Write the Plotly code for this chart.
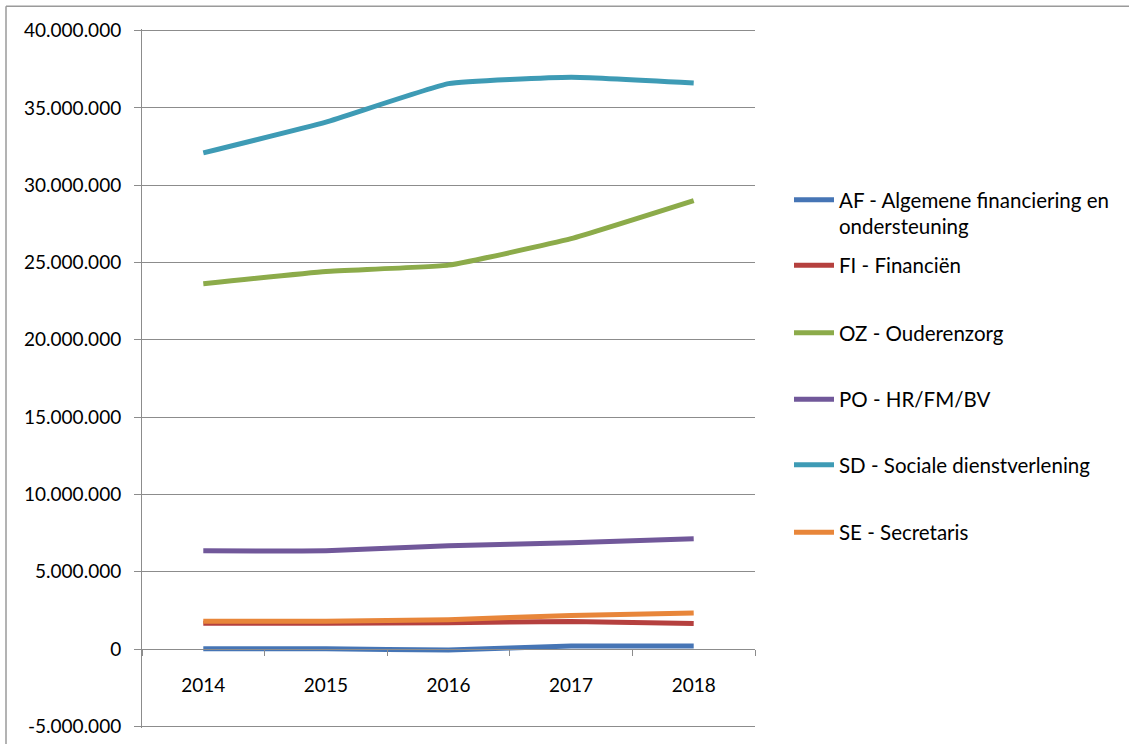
import plotly.graph_objects as go

years = ["2014", "2015", "2016", "2017", "2018"]

af = [30000, 20000, -50000, 210000, 210000]
fi = [1670000, 1670000, 1710000, 1780000, 1650000]
oz = [23630000, 24420000, 24830000, 26540000, 29000000]
po = [6360000, 6360000, 6680000, 6880000, 7130000]
sd = [32090000, 34080000, 36570000, 36980000, 36610000]
se = [1800000, 1800000, 1900000, 2180000, 2330000]

names = [
    "AF - Algemene financiering en<br>ondersteuning",
    "FI - Financiën",
    "OZ - Ouderenzorg",
    "PO - HR/FM/BV",
    "SD - Sociale dienstverlening",
    "SE - Secretaris",
]
colors = ["#4675b5", "#b5403e", "#8cab4a", "#71589a", "#3e9bb5", "#e8863a"]

y_ticks = list(range(-5000000, 40000001, 5000000))
y_ticktext = [f"{v:,}".replace(",", ".") for v in y_ticks]
y_range = [-5100000, 40100000]   # a hair wider so the end gridlines are kept

# plot area in pixels (window 1129x749)
L, R, T, B = 142, 755, 29, 733
W, H = R - L, B - T

FONT = "Lato"
GRID = "#8c8c8c"

fig = go.Figure()

# legend rows (pixel y of the first text line)
legend_rows = [200, 266, 334, 401, 467, 535]

series = [af, fi, oz, po, sd, se]
for i, (vals, name, col) in enumerate(zip(series, names, colors)):
    lg = "legend" if i == 0 else f"legend{i + 1}"
    fig.add_trace(
        go.Scatter(
            x=years, y=vals, name=name, mode="lines",
            line=dict(color=col, width=5, shape="spline", smoothing=0.35),
            legend=lg,
        )
    )

legends = {}
for i, ypx in enumerate(legend_rows):
    key = "legend" if i == 0 else f"legend{i + 1}"
    legends[key] = dict(
        x=(789 - L) / W,
        xanchor="left",
        y=(B - (ypx - 19)) / H,
        yanchor="top",
        valign="top",
        bgcolor="rgba(0,0,0,0)",
        font=dict(family=FONT, size=20.5, color="#000000"),
        itemwidth=40,
        tracegroupgap=0,
    )

fig.update_layout(
    width=1129,
    height=749,
    margin=dict(l=L, r=1129 - R, t=T, b=749 - B),
    paper_bgcolor="white",
    plot_bgcolor="white",
    font=dict(family=FONT, size=19, color="#000000"),
    showlegend=True,
    **legends,
)

fig.update_yaxes(
    range=y_range,
    tickvals=y_ticks,
    ticktext=y_ticktext,
    showgrid=True,
    gridcolor=GRID,
    gridwidth=1,
    zeroline=False,
    showline=True,
    linecolor=GRID,
    linewidth=1,
    ticks="outside",
    ticklen=7,
    tickcolor=GRID,
    ticklabelstandoff=9,
)

fig.update_xaxes(
    type="category",
    range=[-0.5, 4.5],
    anchor="free",
    position=(0 - y_range[0]) / (y_range[1] - y_range[0]),
    showgrid=False,
    showline=True,
    linecolor=GRID,
    linewidth=1,
    ticks="outside",
    tickson="boundaries",
    ticklen=6,
    tickcolor=GRID,
    ticklabelstandoff=19,
)

# chart border (only the top and left edges are in frame)
border = dict(color="#9a9a9a", width=1.5)
fig.add_shape(
    type="line", xref="paper", yref="paper",
    x0=(6 - L) / W, x1=(1129 - L) / W,
    y0=(B - 6) / H, y1=(B - 6) / H,
    line=border, layer="above",
)
fig.add_shape(
    type="line", xref="paper", yref="paper",
    x0=(6 - L) / W, x1=(6 - L) / W,
    y0=(B - 749) / H, y1=(B - 6) / H,
    line=border, layer="above",
)

fig.write_html(
    "out.html",
    config={"displayModeBar": False},
    post_script="document.body.style.margin='0';",
)
